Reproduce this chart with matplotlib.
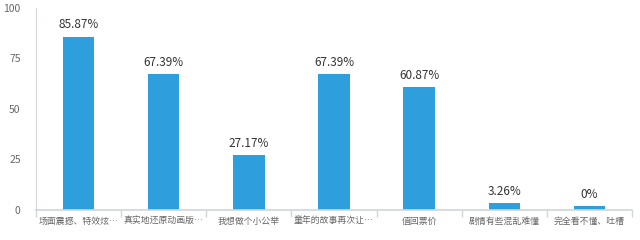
import numpy as np
import matplotlib
matplotlib.use("Agg")
import matplotlib.pyplot as plt

plt.rcParams['font.family'] = ['Noto Sans CJK SC', 'DejaVu Sans']

categories = ["场面震撼、特效炫…", "真实地还原动画版…", "我想做个小公举", "童年的故事再次让…",
              "值回票价", "剧情有些混乱难懂", "完全看不懂、吐槽"]
values = [85.87, 67.39, 27.17, 67.39, 60.87, 3.26, 0]
labels = ["85.87%", "67.39%", "27.17%", "67.39%", "60.87%", "3.26%", "0%"]
yticks = [0, 25, 50, 75, 100]

bar_color = "#2e9fdc"
axis_color = "#cfd6de"
text_color = "#666666"

fig = plt.figure(figsize=(6.4, 2.4), dpi=100)
ax = fig.add_axes([0.05625, 0.125, 0.93125, 0.8417])

x = np.arange(len(categories))
# the chart keeps a small minimum bar height, even for 0
heights = np.maximum(values, 2.2)
ax.bar(x, heights, width=0.37, color=bar_color, zorder=2)

for xi, h, lab in zip(x, heights, labels):
    ax.text(xi, h + 2.5, lab, ha="center", va="bottom", fontsize=8.5, color="#333333")

ax.set_xlim(-0.5, len(categories) - 0.5)
ax.set_ylim(0, 100)
ax.set_yticks(yticks)
ax.set_yticklabels([str(t) for t in yticks], fontsize=7.5, color=text_color)
ax.tick_params(axis="y", length=0, pad=11)

# category labels placed at centres, tick marks on the boundaries
ax.set_xticks(x)
ax.set_xticklabels(categories, fontsize=6.4, color=text_color)
ax.tick_params(axis="x", which="major", length=0, pad=5)
ax.set_xticks(np.arange(len(categories) + 1) - 0.5, minor=True)
ax.tick_params(axis="x", which="minor", length=5, color=axis_color, width=1)

for side in ["top", "right"]:
    ax.spines[side].set_visible(False)
ax.spines["left"].set_color(axis_color)
ax.spines["bottom"].set_color(axis_color)
ax.spines["bottom"].set_linewidth(1.2)

fig.savefig("out.png", dpi=100)
